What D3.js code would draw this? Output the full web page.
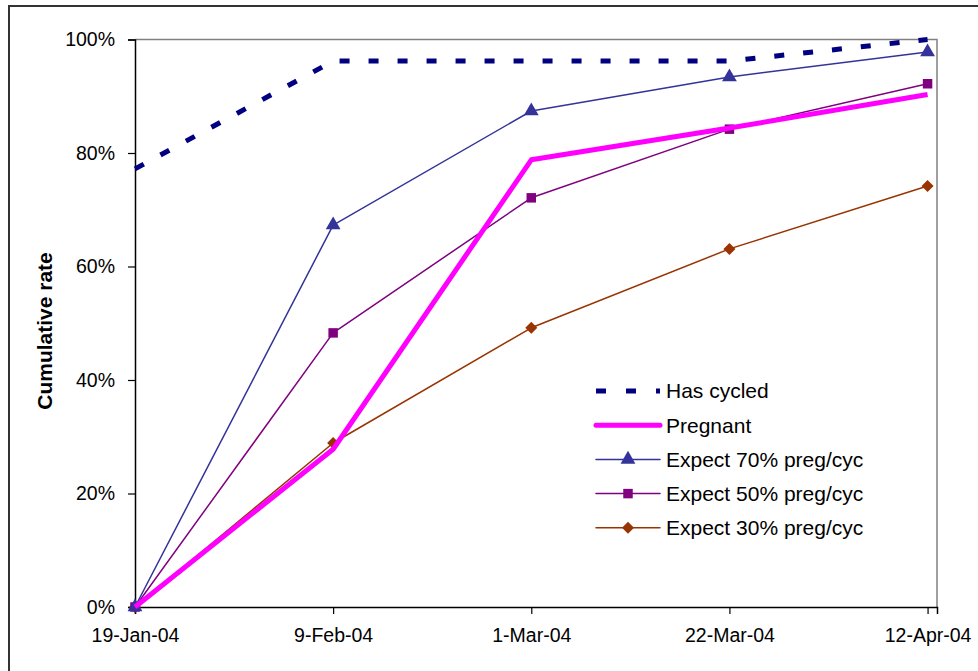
<!DOCTYPE html>
<html><head><meta charset="utf-8">
<script src="https://cdn.jsdelivr.net/npm/d3@7"></script>
<style>body{margin:0;background:#fff}svg{display:block}text{font-family:"Liberation Sans",Arial,sans-serif;fill:#000}</style>
</head><body><div id="chart"></div>
<script>
const dates = ["2004-01-19","2004-02-09","2004-03-01","2004-03-22","2004-04-12"];
const hasCycled = [0.772, 0.962, 0.962, 0.962, 1.0];
const pregnant = [0, 0.278, 0.788, 0.844, 0.903];
const expect70 = [0, 0.673, 0.874, 0.934, 0.978];
const expect50 = [0, 0.483, 0.721, 0.842, 0.922];
const expect30 = [0, 0.289, 0.492, 0.631, 0.742];
const yTicks = [0, 0.2, 0.4, 0.6, 0.8, 1.0];
const axisEnd = "2004-04-13";
const seriesNames = ["Has cycled","Pregnant","Expect 70% preg/cyc","Expect 50% preg/cyc","Expect 30% preg/cyc"];

const W = 978, H = 671;
const parse = d3.timeParse("%Y-%m-%d");
const xDates = dates.map(parse);
const svg = d3.select("#chart").append("svg").attr("width", W).attr("height", H);

svg.append("rect").attr("x", 9).attr("y", 6).attr("width", 1000).attr("height", 700)
  .attr("fill", "none").attr("stroke", "#333").attr("stroke-width", 2);

const x = d3.scaleTime().domain([parse(dates[0]), parse(axisEnd)]).range([135, 937]);
const y = d3.scaleLinear().domain([0, 1]).range([607, 39.5]);

svg.append("path").attr("d", `M${x.range()[0]},${y(1)}H${x.range()[1]}V${y(0)}`)
  .attr("fill", "none").attr("stroke", "#808080").attr("stroke-width", 1.5);

const yAxis = svg.append("g").attr("transform", `translate(${x.range()[0]},0)`)
  .call(d3.axisLeft(y).tickValues(yTicks).tickFormat(d3.format(".0%")).tickSize(7).tickPadding(13));
const xAxis = svg.append("g").attr("transform", `translate(0,${y(0)})`)
  .call(d3.axisBottom(x).tickValues(xDates).tickFormat(d3.timeFormat("%-d-%b-%y")).tickSize(7).tickPadding(14));
[yAxis, xAxis].forEach(a => {
  a.select(".domain").attr("stroke", "#000").attr("stroke-width", 1.5);
  a.selectAll(".tick line").attr("stroke", "#000").attr("stroke-width", 1.2);
  a.selectAll("text").style("font-size", "19.5px").attr("fill", "#000");
});

svg.append("text").attr("transform", `translate(52,331) rotate(-90)`)
  .attr("text-anchor", "middle").style("font-size", "21px").style("font-weight", "bold")
  .text("Cumulative rate");

const series = [
  {name: seriesNames[0], vals: hasCycled, color: "#000080", width: 5, dash: "10,19", marker: null},
  {name: seriesNames[1], vals: pregnant, color: "#FF00FF", width: 5, dash: null, marker: null},
  {name: seriesNames[2], vals: expect70, color: "#333399", width: 1.5, dash: null, marker: d3.symbolTriangle, size: 95, rot: 0},
  {name: seriesNames[3], vals: expect50, color: "#800080", width: 1.5, dash: null, marker: d3.symbolSquare, size: 90, rot: 0},
  {name: seriesNames[4], vals: expect30, color: "#993300", width: 1.5, dash: null, marker: d3.symbolSquare, size: 72, rot: 45},
];
const line = d3.line().x((d, i) => x(xDates[i])).y(d => y(d));

const order = [4, 3, 2, 1, 0];
order.forEach(k => {
  const s = series[k];
  svg.append("path").attr("d", line(s.vals)).attr("fill", "none")
    .attr("stroke", s.color).attr("stroke-width", s.width)
    .attr("stroke-dasharray", s.dash).attr("stroke-linejoin", "round");
  if (s.marker) {
    svg.selectAll(null).data(s.vals).enter().append("path")
      .attr("d", d3.symbol().type(s.marker).size(s.size))
      .attr("transform", (d, i) => `translate(${x(xDates[i])},${y(d)}) rotate(${s.rot})`)
      .attr("fill", s.color);
  }
});

const lg = svg.append("g");
series.forEach((s, i) => {
  const yy = 391 + i * 34.2;
  lg.append("line").attr("x1", 596).attr("x2", 660).attr("y1", yy).attr("y2", yy)
    .attr("stroke", s.color).attr("stroke-width", s.width)
    .attr("stroke-dasharray", s.dash ? "10,20" : null)
    .attr("stroke-linecap", s.dash ? "butt" : "round");
  if (s.marker) {
    lg.append("path").attr("d", d3.symbol().type(s.marker).size(s.size))
      .attr("transform", `translate(628,${yy}) rotate(${s.rot})`).attr("fill", s.color);
  }
  lg.append("text").attr("x", 666).attr("y", yy).attr("dy", "0.35em")
    .style("font-size", "21px").text(s.name);
});
</script></body></html>
